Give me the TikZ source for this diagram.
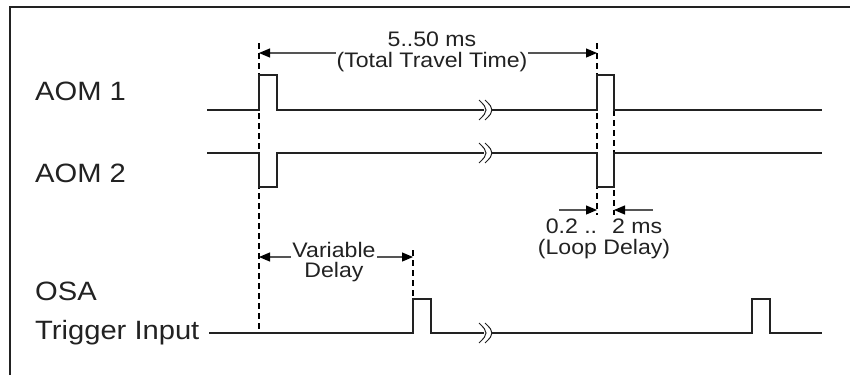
\documentclass[tikz,border=0pt]{standalone}
\usepackage{fontspec}
\setmainfont{Liberation Sans}[FakeStretch=1.1]
\usetikzlibrary{arrows.meta}
\definecolor{ink}{HTML}{222222}
\definecolor{shaft}{HTML}{555555}

\begin{document}
\begin{tikzpicture}[
  x=1pt,y=-1pt,
  sig/.style={draw=ink,line width=2.8pt,line join=miter},
  guide/.style={draw=black,line width=1.3pt,dash pattern=on 6pt off 4pt},
  dim/.style={draw=shaft,line width=1.2pt,-{Triangle[length=11pt,width=9pt,color=black]}},
  dimboth/.style={dim,{Triangle[length=11pt,width=9pt,color=black]}-{Triangle[length=11pt,width=9pt,color=black]}},
  lbl/.style={anchor=base west,inner sep=0pt,text=ink,font=\fontsize{26.5}{30}\selectfont},
  note/.style={align=center,text=ink,inner sep=1pt,font=\fontsize{21}{20.5}\selectfont},
  brk/.pic={\draw[ink,line width=1pt] (-8,-10) .. controls (-2,-4) .. (-1,0) .. controls (-2,4) .. (-8,10)
                                       (-2,-10) .. controls (4,-4) .. (5,0) .. controls (4,4) .. (-2,10);}
]
\useasboundingbox (0,0) rectangle (850,375);
\draw[ink,line width=1.6pt] (10,375) -- (10,7) -- (850,7);

% signal names
\node[lbl] (aom1) at (35,100) {AOM 1};
\node[lbl] (aom2) at (35,182) {AOM 2};
\node[lbl] (osa) at (35,300) {OSA};
\node[lbl] (trig) at (35,339) {Trigger Input};

% timing guides
\coordinate (g1) at (259,43);  \coordinate (g1b) at (259,333);
\coordinate (g2) at (597,43);  \coordinate (g2b) at (597,215);
\coordinate (g3) at (614,110); \coordinate (g3b) at (614,215);
\coordinate (g4) at (413,250); \coordinate (g4b) at (413,299);
\draw[guide] (g1) -- (g1b);
\draw[guide] (g2) -- (g2b);
\draw[guide] (g3) -- (g3b);
\draw[guide] (g4) -- (g4b);

% waveforms
\draw[sig] (207,110) -- (259,110) -- (259,75) -- (277,75) -- (277,110) -- (484,110)
           (491,110) -- (597,110) -- (597,75) -- (614,75) -- (614,110) -- (822,110);
\draw[sig] (207,153) -- (259,153) -- (259,187) -- (277,187) -- (277,153) -- (484,153)
           (491,153) -- (597,153) -- (597,187) -- (614,187) -- (614,153) -- (822,153);
\draw[sig] (209,333) -- (413,333) -- (413,299) -- (431,299) -- (431,333) -- (484,333)
           (491,333) -- (752,333) -- (752,299) -- (770,299) -- (770,333) -- (822,333);
\pic at (487,110) {brk};
\pic at (487,153) {brk};
\pic at (487,333) {brk};

% dimensions
\coordinate (tt1) at (259,53); \coordinate (tt2) at (597,53);
\draw[dimboth] (tt1) -- (tt2);
\node[note,fill=white] (travel) at (432,52) {5..50 ms\\(Total Travel Time)};

\coordinate (vd1) at (259,257); \coordinate (vd2) at (413,257);
\draw[dimboth] (vd1) -- (vd2);
\node[note,fill=white] (vardelay) at (334,262) {Variable\\Delay};

\coordinate (ld1) at (559,210); \coordinate (ld2) at (597,210);
\coordinate (ld3) at (653,210); \coordinate (ld4) at (614,210);
\draw[dim] (ld1) -- (ld2);
\draw[dim] (ld3) -- (ld4);
\node[note] (loop) at (604,239) {0.2 ..~ 2 ms\\(Loop Delay)};
\end{tikzpicture}
\end{document}
